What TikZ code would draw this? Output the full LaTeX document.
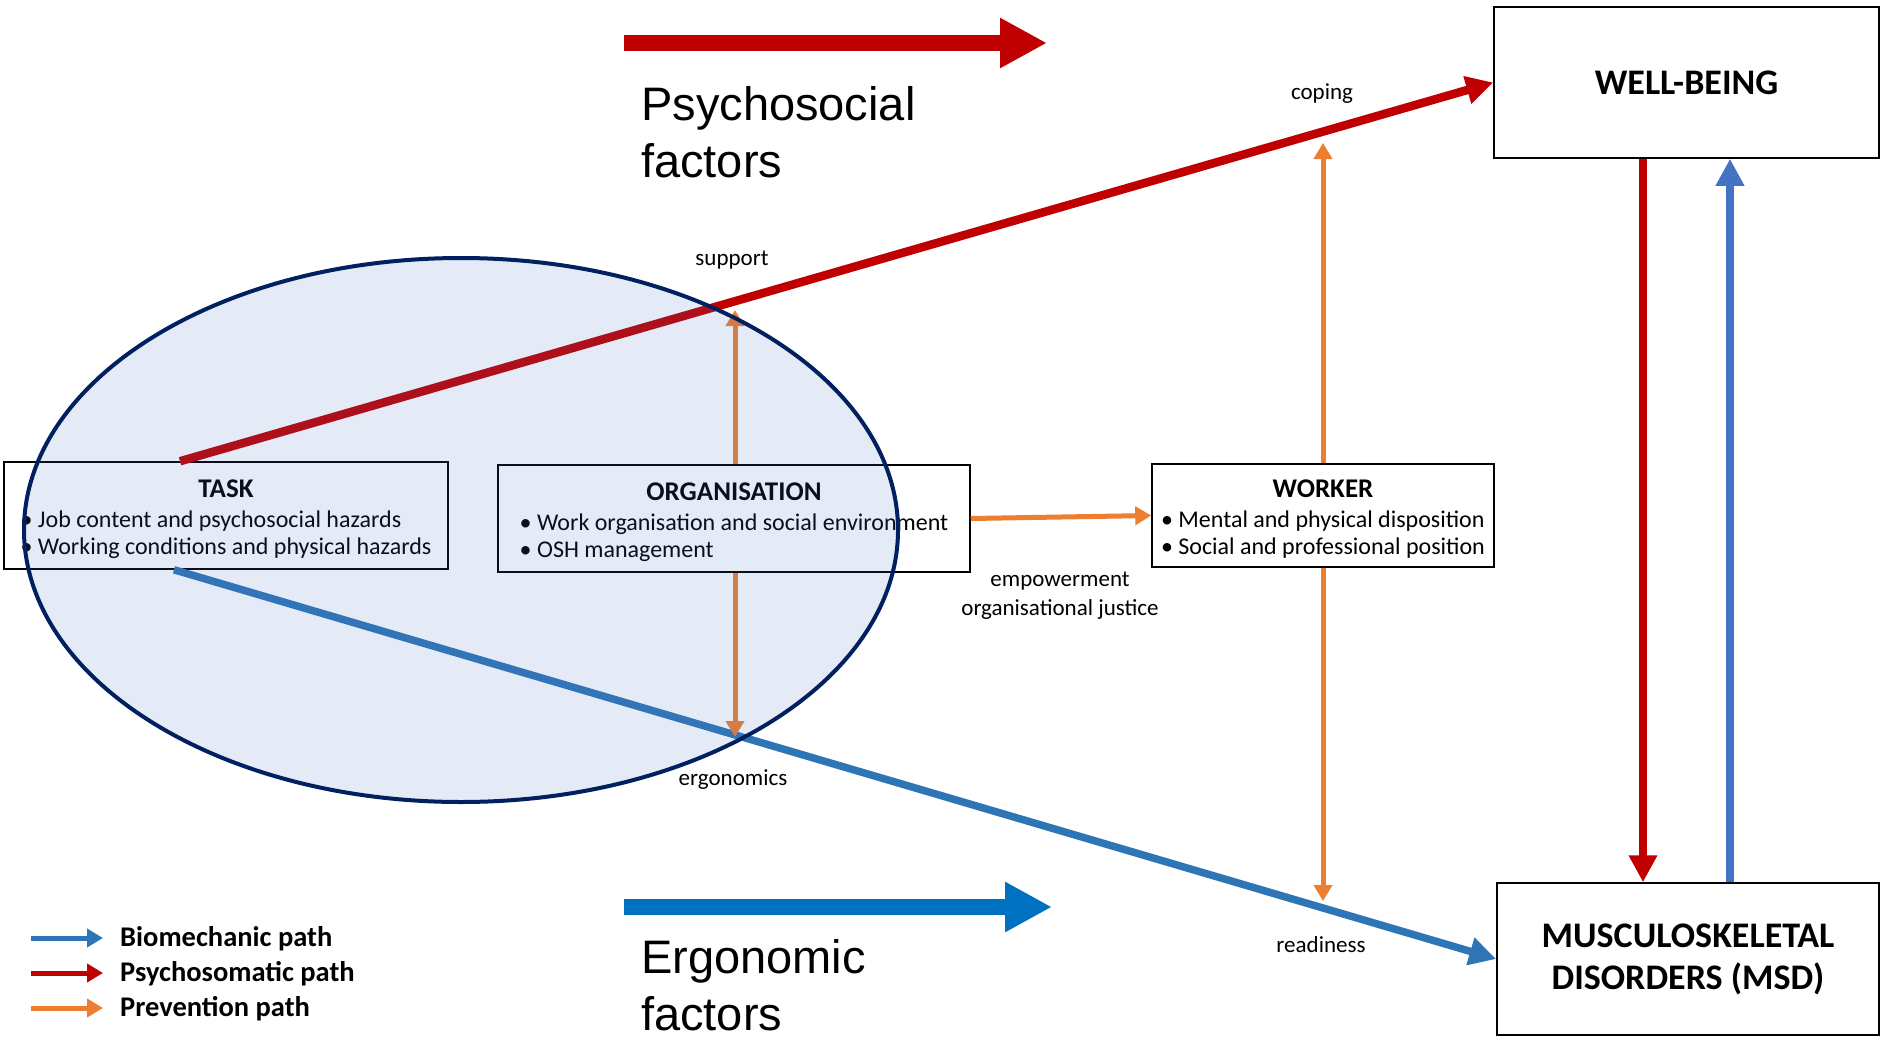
\documentclass[tikz,border=0pt]{standalone}
\usepackage{fontspec}
\setmainfont{Carlito}
\newfontfamily\bigsans{Liberation Sans}
\usepackage{tikz}
\usetikzlibrary{shapes,arrows.meta,positioning,calc}

\definecolor{psyred}{HTML}{C00000}
\definecolor{bioblue}{HTML}{2E75B6}
\definecolor{upblue}{HTML}{4472C4}
\definecolor{bigblue}{HTML}{0070C0}
\definecolor{prevorange}{HTML}{ED7D31}
\definecolor{navy}{HTML}{002060}

\newcommand{\itm}{\textbullet\ }
\newcommand{\hdr}[1]{\multicolumn{1}{@{}c@{}}{\fontsize{27}{30}\selectfont\bfseries #1}}
\newcommand{\lowered}[1]{\raisebox{-5pt}[\height][\depth]{#1}}

\begin{document}
\begin{tikzpicture}[x=1pt, y=-1pt,
    box/.style={draw, fill=white, line width=1.5pt, align=center, inner sep=0pt,
                font=\fontsize{24}{27}\selectfont},
    outbox/.style={draw, fill=white, line width=1.5pt, align=center, inner sep=0pt,
                font=\fontsize{36}{42}\selectfont\bfseries},
    lbl/.style={inner sep=0pt, align=center, font=\fontsize{23}{29}\selectfont},
    bigtxt/.style={inner sep=0pt, align=left, font=\bigsans\fontsize{47}{57}\selectfont},
    legtxt/.style={inner sep=0pt, anchor=base west, font=\fontsize{28.5}{33}\selectfont\bfseries},
    psyline/.style={psyred, line width=8.5pt, -{Triangle[length=27pt, width=27pt]}},
    bioline/.style={bioblue, line width=7.5pt, -{Triangle[length=27pt, width=27pt]}},
    vline/.style={line width=8.5pt, -{Triangle[length=27pt, width=27pt]}},
    prevline/.style={prevorange, line width=5pt, -{Triangle[length=16pt, width=18pt]}},
    bigline/.style={line width=16pt, -{Triangle[length=47pt, width=47pt]}},
    legline/.style={line width=5pt, -{Triangle[length=16pt, width=18pt]}}
]
    \useasboundingbox[fill=white] (0,0) rectangle (1883,1039);

    % outcome boxes
    \node[outbox, minimum width=385pt, minimum height=151pt] (wb) at (1686.5,82.5) {WELL-BEING};
    \node[outbox, minimum width=382pt, minimum height=152pt] (msd) at (1688,959)
        {MUSCULOSKELETAL\\DISORDERS (MSD)};

    % factor boxes
    \node[box, minimum width=444pt, minimum height=107pt] (task) at (226,515.5) {\lowered{
        \begin{tabular}{@{}l@{}}
        \hdr{TASK}\\[3pt]
        \itm Job content and psychosocial hazards\\
        \itm Working conditions and physical hazards
        \end{tabular}}
    };
    \node[box, minimum width=472pt, minimum height=107pt] (org) at (734,518.5) {\lowered{
        \begin{tabular}{@{}l@{}}
        \hdr{ORGANISATION}\\[3pt]
        \itm Work organisation and social environment\\
        \itm OSH management
        \end{tabular}}
    };
    \node[box, minimum width=342pt, minimum height=103pt] (worker) at (1323,515.5) {\lowered{
        \begin{tabular}{@{}l@{}}
        \hdr{WORKER}\\[3pt]
        \itm Mental and physical disposition\\
        \itm Social and professional position
        \end{tabular}}
    };

    % free ends of the prevention arrows
    \coordinate (sup) at (735,310);
    \coordinate (erg) at (735,737);
    \coordinate (cop) at (1323,143);
    \coordinate (rdy) at (1323,901);

    \node[lbl, anchor=base] (supl) at (732,265) {support};
    \node[lbl, anchor=base] (ergl) at (733,785) {ergonomics};
    \node[lbl, anchor=base] (copl) at (1322,99) {coping};
    \node[lbl, anchor=base] (rdyl) at (1321,952) {readiness};
    \node[lbl, anchor=base] (empl) at (1060,615) {empowerment\\organisational justice};

    % paths
    \draw[psyline] ([xshift=-46pt]task.north) -- (wb.west);
    \draw[bioline] ([xshift=-52pt]task.south) -- (msd.west);
    \draw[vline, psyred] ([xshift=-43.5pt]wb.south) -- ([xshift=-43.5pt]wb.south |- msd.north);
    \draw[vline, upblue] ([xshift=42pt]msd.north) -- ([xshift=42pt]msd.north |- wb.south);
    \draw[prevline] (org.north -| sup) -- (sup);
    \draw[prevline] (org.south -| erg) -- (erg);
    \draw[prevline] (org.east) -- (worker.west);
    \draw[prevline] (worker.north -| cop) -- (cop);
    \draw[prevline] (worker.south -| rdy) -- (rdy);

    % big factor arrows
    \coordinate (psyA) at (624,43);
    \coordinate (psyB) at (1047,43);
    \coordinate (ergA) at (624,907);
    \coordinate (ergB) at (1052,907);
    \draw[bigline, psyred] (psyA) -- (psyB);
    \draw[bigline, bigblue] (ergA) -- (ergB);
    \node[bigtxt, anchor=base west] (psytxt) at (641,177) {Psychosocial\\factors};
    \node[bigtxt, anchor=base west] (ergtxt) at (641,1030) {Ergonomic\\factors};

    % legend
    \node[legtxt] (lgb) at (120,946) {Biomechanic path};
    \node[legtxt] (lgr) at (120,981) {Psychosomatic path};
    \node[legtxt] (lgo) at (120,1016) {Prevention path};
    \coordinate (lb) at (31,938);
    \coordinate (lr) at (31,973);
    \coordinate (lo) at (31,1008);
    \draw[legline, bioblue] (lb) -- ($(lb -| lgb.west)+(-17,0)$);
    \draw[legline, psyred] (lr) -- ($(lr -| lgr.west)+(-17,0)$);
    \draw[legline, prevorange] (lo) -- ($(lo -| lgo.west)+(-17,0)$);

    % work environment
    \node[draw=navy, line width=4pt, ellipse, inner sep=0pt, minimum width=874pt,
          minimum height=544pt, fill=upblue, fill opacity=0.14] (env) at (461,530) {};
\end{tikzpicture}
\end{document}
